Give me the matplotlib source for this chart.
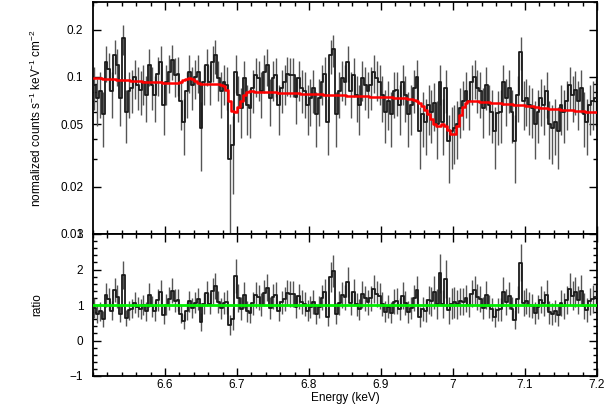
import numpy as np
import matplotlib
matplotlib.use("Agg")
import matplotlib.pyplot as plt
from matplotlib.ticker import FixedLocator, MultipleLocator, NullFormatter, FuncFormatter

plt.rcParams["font.family"] = ["Liberation Sans", "DejaVu Sans"]
plt.rcParams["mathtext.fontset"] = "custom"
plt.rcParams["mathtext.rm"] = "Liberation Sans"
plt.rcParams["mathtext.it"] = "Liberation Sans:italic"

# %%
# spectrum channels: 0.004 keV bins from 6.5 to 7.2 keV
bin_start = 6.5
bin_width = 0.004
n_bins = 175

flux = [
    0.089, 0.073, 0.081, 0.058, 0.125, 0.113, 0.081, 0.138, 0.119, 0.073, 0.176, 0.060,
    0.081, 0.085, 0.100, 0.089, 0.083, 0.093, 0.077, 0.119, 0.089, 0.077, 0.105, 0.125,
    0.066, 0.093, 0.108, 0.128, 0.103, 0.105, 0.070, 0.052, 0.081, 0.108, 0.089, 0.100,
    0.108, 0.047, 0.093, 0.119, 0.093, 0.125, 0.138, 0.098, 0.081, 0.093, 0.089, 0.030,
    0.037, 0.108, 0.077, 0.063, 0.098, 0.066, 0.063, 0.085, 0.103, 0.098, 0.081, 0.108,
    0.119, 0.073, 0.098, 0.103, 0.066, 0.085, 0.093, 0.105, 0.103, 0.103, 0.075,
    0.098, 0.085, 0.081, 0.066, 0.073, 0.085, 0.058, 0.073, 0.093, 0.105, 0.052, 0.138,
    0.151, 0.058, 0.081, 0.098, 0.093, 0.125, 0.081, 0.103, 0.077, 0.066, 0.098, 0.089,
    0.081, 0.089, 0.108, 0.098, 0.093, 0.077, 0.060, 0.070, 0.058, 0.081, 0.082,
    0.066, 0.093, 0.077, 0.058, 0.066, 0.085, 0.100, 0.045, 0.058, 0.052, 0.066, 0.060,
    0.068, 0.050, 0.093, 0.052, 0.085, 0.039, 0.045, 0.047, 0.050, 0.063, 0.070, 0.081,
    0.070, 0.093, 0.100, 0.085, 0.081, 0.063, 0.089, 0.066, 0.060, 0.045, 0.059,
    0.060, 0.093, 0.073, 0.085, 0.060, 0.039, 0.077, 0.145, 0.070, 0.073, 0.066, 0.063,
    0.050, 0.060, 0.073, 0.066, 0.081, 0.050, 0.047, 0.052, 0.045, 0.066, 0.060, 0.070,
    0.089, 0.077, 0.083, 0.070, 0.085, 0.058, 0.052, 0.066, 0.070, 0.073,
]

flux_err = [
    0.027, 0.024, 0.026, 0.022, 0.032, 0.030, 0.026, 0.033, 0.031, 0.024, 0.038, 0.022,
    0.026, 0.026, 0.028, 0.027, 0.026, 0.027, 0.025, 0.031, 0.027, 0.025, 0.029, 0.032,
    0.023, 0.027, 0.029, 0.032, 0.029, 0.029, 0.024, 0.020, 0.026, 0.029, 0.027, 0.028,
    0.029, 0.022, 0.027, 0.031, 0.027, 0.032, 0.033, 0.028, 0.026, 0.027, 0.027, 0.020,
    0.019, 0.029, 0.025, 0.022, 0.028, 0.023, 0.022, 0.026, 0.029, 0.028, 0.026, 0.029,
    0.031, 0.024, 0.028, 0.029, 0.023, 0.026, 0.027, 0.029, 0.029, 0.029, 0.025,
    0.028, 0.026, 0.026, 0.023, 0.024, 0.026, 0.022, 0.024, 0.027, 0.029, 0.020, 0.033,
    0.035, 0.022, 0.026, 0.028, 0.027, 0.032, 0.026, 0.029, 0.025, 0.023, 0.028, 0.027,
    0.026, 0.027, 0.029, 0.028, 0.027, 0.025, 0.022, 0.024, 0.022, 0.026, 0.026,
    0.023, 0.027, 0.025, 0.022, 0.023, 0.026, 0.028, 0.019, 0.022, 0.020, 0.023, 0.022,
    0.023, 0.020, 0.027, 0.020, 0.026, 0.018, 0.019, 0.019, 0.020, 0.022, 0.024, 0.026,
    0.024, 0.027, 0.028, 0.026, 0.026, 0.022, 0.027, 0.023, 0.022, 0.019, 0.022,
    0.022, 0.027, 0.024, 0.026, 0.022, 0.018, 0.025, 0.034, 0.024, 0.024, 0.023, 0.022,
    0.020, 0.022, 0.024, 0.023, 0.026, 0.020, 0.019, 0.020, 0.019, 0.023, 0.022, 0.024,
    0.027, 0.025, 0.026, 0.024, 0.026, 0.022, 0.020, 0.023, 0.024, 0.024,
]

model = [
    0.0980, 0.0980, 0.0978, 0.0975, 0.0972, 0.0970, 0.0968, 0.0965, 0.0962, 0.0960,
    0.0955, 0.0952, 0.0950, 0.0947, 0.0944, 0.0941, 0.0938, 0.0935, 0.0932, 0.0930,
    0.0928, 0.0926, 0.0924, 0.0922, 0.0920, 0.0918, 0.0917, 0.0916, 0.0915, 0.0916,
    0.0930, 0.0955, 0.0975, 0.0980, 0.0970, 0.0945, 0.0920, 0.0905, 0.0900, 0.0898,
    0.0897, 0.0896, 0.0897, 0.0898, 0.0895, 0.0880, 0.0820, 0.0700, 0.0610, 0.0595,
    0.0640, 0.0700, 0.0770, 0.0805, 0.0810,
    0.0808, 0.0807, 0.0805, 0.0804, 0.0802, 0.0801, 0.0800, 0.0798, 0.0797, 0.0795,
    0.0794, 0.0792, 0.0791, 0.0790, 0.0788, 0.0787, 0.0785, 0.0784, 0.0782, 0.0781,
    0.0780, 0.0778, 0.0777, 0.0775, 0.0774, 0.0772, 0.0771, 0.0770, 0.0768, 0.0767,
    0.0765, 0.0764, 0.0762, 0.0761, 0.0760, 0.0758, 0.0757, 0.0755, 0.0754, 0.0752,
    0.0751, 0.0750, 0.0748, 0.0747, 0.0745, 0.0744, 0.0742, 0.0741, 0.0740, 0.0738,
    0.0737, 0.0735, 0.0734,
    0.0732, 0.0728, 0.0722, 0.0712, 0.0700, 0.0680, 0.0655, 0.0620, 0.0585, 0.0540,
    0.0500, 0.0485, 0.0490, 0.0505, 0.0490, 0.0460, 0.0435, 0.0435, 0.0490, 0.0570,
    0.0640, 0.0680, 0.0700, 0.0705,
    0.0700, 0.0698, 0.0695, 0.0693, 0.0690, 0.0688, 0.0685, 0.0683, 0.0680, 0.0678,
    0.0676, 0.0673, 0.0671, 0.0668, 0.0666, 0.0664, 0.0661, 0.0659, 0.0657, 0.0655,
    0.0652, 0.0648, 0.0642, 0.0636, 0.0632, 0.0630, 0.0628, 0.0626, 0.0624, 0.0622,
    0.0620, 0.0618, 0.0616, 0.0614, 0.0612, 0.0610, 0.0608, 0.0606, 0.0604, 0.0602,
    0.0600, 0.0598, 0.0596,
]

energy_ticks = [6.6, 6.7, 6.8, 6.9, 7.0, 7.1, 7.2]
flux_ticks = [0.01, 0.02, 0.05, 0.1, 0.2]
ratio_ticks = [-1, 0, 1, 2, 3]

# %%
energy = bin_start + bin_width * (np.arange(n_bins) + 0.5)
flux = np.array(flux)
flux_err = np.array(flux_err)
model = np.array(model)
ratio = flux / model
ratio_err = flux_err / model

fig = plt.figure(figsize=(6.16, 4.04), dpi=100)
ax1 = fig.add_axes([93 / 616, 1 - 234 / 404, 504 / 616, 232 / 404])
ax2 = fig.add_axes([93 / 616, 28 / 404, 504 / 616, 142 / 404])

for ax, y, yerr in ((ax1, flux, flux_err), (ax2, ratio, ratio_err)):
    ax.errorbar(energy, y, yerr=yerr, fmt="none", ecolor="#555555", elinewidth=1.0, zorder=2)
    ax.step(energy, y, where="mid", color="#1a1a1a", lw=1.3, zorder=3)

ax1.step(energy, model, where="mid", color="#ff0000", lw=1.8, zorder=4)
ax2.axhline(1.0, color="#00ee00", lw=2.0, zorder=4)

ax1.set_yscale("log")
ax1.set_ylim(0.01, 0.3)
ax1.yaxis.set_major_locator(FixedLocator(flux_ticks))
ax1.yaxis.set_major_formatter(FuncFormatter(lambda v, p: f"{v:g}"))
ax1.yaxis.set_minor_locator(FixedLocator([0.03, 0.04, 0.06, 0.07, 0.08, 0.09, 0.3]))
ax1.yaxis.set_minor_formatter(NullFormatter())
ax1.set_ylabel(r"normalized counts s$^{-1}$ keV$^{-1}$ cm$^{-2}$", fontsize=8.5)

ax2.set_ylim(-1, 3)
ax2.yaxis.set_major_locator(FixedLocator(ratio_ticks))
ax2.yaxis.set_minor_locator(MultipleLocator(0.2))
ax2.yaxis.set_major_formatter(FuncFormatter(lambda v, p: f"{v:g}".replace("-", "\u2212")))
ax2.set_ylabel("ratio", fontsize=8.5)
ax2.set_xlabel("Energy (keV)", fontsize=8.5, labelpad=1)

for ax in (ax1, ax2):
    ax.set_xlim(6.5, 7.2)
    ax.xaxis.set_major_locator(FixedLocator(energy_ticks))
    ax.xaxis.set_minor_locator(MultipleLocator(0.02))
    ax.xaxis.set_major_formatter(FuncFormatter(lambda v, p: f"{v:g}"))
    ax.tick_params(which="both", direction="in", top=True, right=True, width=1.0,
                   labelsize=8.5, colors="black")
    ax.tick_params(which="major", length=6)
    ax.tick_params(which="minor", length=3)
    ax.tick_params(axis="x", which="major", pad=2)
    ax.tick_params(axis="y", which="major", pad=7)
    for s in ax.spines.values():
        s.set_linewidth(1.3)
ax1.tick_params(labelbottom=False)
ax1.yaxis.set_label_coords(-0.098, 0.5)
ax2.yaxis.set_label_coords(-0.098, 0.5)

fig.savefig("out.png", dpi=100)
